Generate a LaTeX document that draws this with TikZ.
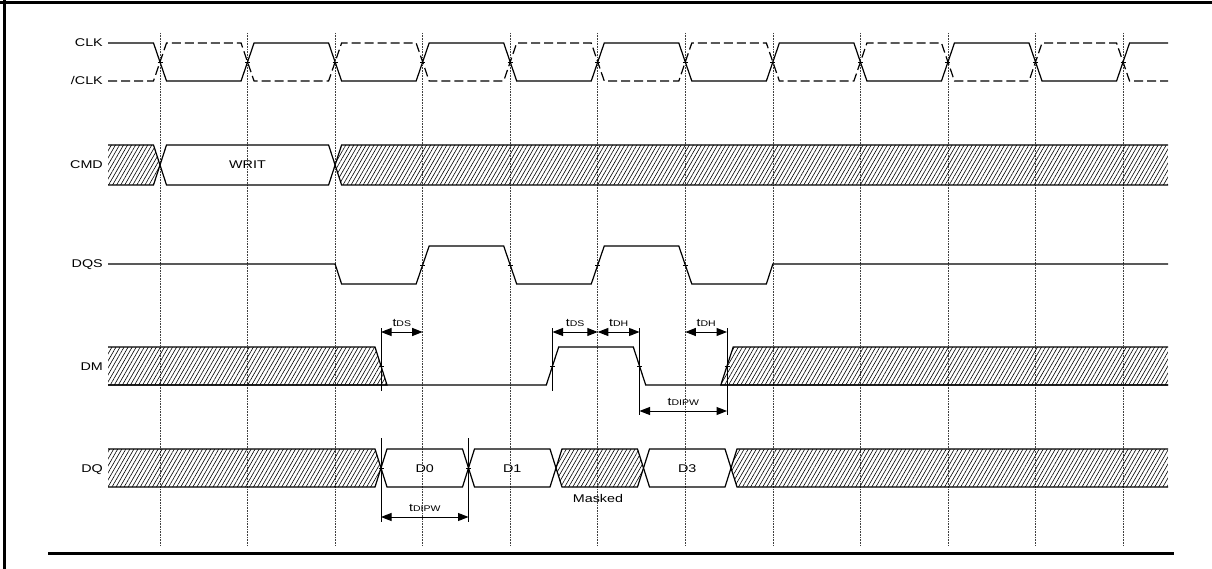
\documentclass[tikz,border=0pt]{standalone}
\usepackage{fontspec}
\setmainfont{Liberation Sans}[FakeStretch=1.28]
\usetikzlibrary{arrows.meta,patterns.meta}
\newcommand{\tsub}[1]{t{\fontsize{8.2}{9}\selectfont #1}}

\begin{document}
\begin{tikzpicture}[x=1pt, y=-1pt,
        sig/.style={line width=1.2pt, line join=miter},
        gridln/.style={black!75, line width=0.7pt, dash pattern=on 0.8pt off 0.8pt},
        hatch/.style={pattern={Lines[angle=60,distance=3.5pt,line width=0.6pt]}},
        lbl/.style={anchor=east, font=\fontsize{11.2}{13}\selectfont, inner sep=0pt, text height=8pt, text depth=0pt},
        txt/.style={font=\fontsize{11.2}{13}\selectfont, inner sep=0pt, text height=8pt, text depth=0pt},
        dim/.style={line width=1pt, {Triangle[length=10.5pt,width=8pt]}-{Triangle[length=10.5pt,width=8pt]}},
        dimlbl/.style={font=\fontsize{11}{12}\selectfont, inner sep=0pt, text height=7.5pt, text depth=0pt, above=4.8pt},
        refln/.style={line width=1pt},
        crosstick/.style={line width=0.6pt}
    ]
        \useasboundingbox (0,0) rectangle (1212,569);

        \draw[line width=2.4pt] (4.5,0) -- (4.5,569);
        \draw[line width=2.6pt] (0,2.8) -- (1212,2.8);
        \draw[line width=3pt] (48,553.3) -- (1174,553.3);

        \foreach \i in {0,...,11} \draw[gridln] ({160+87.55*\i},33) -- ({160+87.55*\i},546);

        \node[lbl] (clk) at (103,43) {CLK};
        \node[lbl] (nclk) at (103,81) {/CLK};
        \node[lbl] (cmd) at (103,165) {CMD};
        \node[lbl] (dqs) at (103,264) {DQS};
        \node[lbl] (dm) at (103,366) {DM};
        \node[lbl] (dq) at (103,468) {DQ};

        \draw[sig] (108,43) foreach \i [evaluate=\i as \g using 160+87.55*\i,
            evaluate=\i as \ya using {ifthenelse(mod(\i,2)==0,43,81)},
            evaluate=\i as \yb using {ifthenelse(mod(\i,2)==0,81,43)}] in {0,...,11}
            { -- (\g-6.5,\ya) -- (\g+6.5,\yb) } -- (1168,43);
        \draw[sig, dash pattern=on 9pt off 4pt] (108,81) foreach \i [evaluate=\i as \g using 160+87.55*\i,
            evaluate=\i as \ya using {ifthenelse(mod(\i,2)==0,81,43)},
            evaluate=\i as \yb using {ifthenelse(mod(\i,2)==0,43,81)}] in {0,...,11}
            { -- (\g-6.5,\ya) -- (\g+6.5,\yb) } -- (1168,81);
        \foreach \i in {0,...,11} \draw[crosstick] ({160+87.55*\i-2.5},62) -- ({160+87.55*\i+2.5},62);

        \draw[sig, hatch] (108,145) -- (153.5,145) -- (160,165) -- (153.5,185) -- (108,185);
        \draw[sig] (160,165) -- (166.5,145) -- (328.6,145) -- (335.1,165) -- (328.6,185) -- (166.5,185) -- cycle;
        \node[txt] (writ) at (247.5,165) {WRIT};
        \draw[sig, hatch] (1168,145) -- (341.6,145) -- (335.1,165) -- (341.6,185) -- (1168,185);

        \draw[sig] (108,264) -- (335.1,264) -- (341.6,284) -- (416.15,284) -- (429.15,246) -- (503.7,246)
            -- (516.7,284) -- (591.25,284) -- (604.25,246) -- (678.8,246) -- (691.8,284)
            -- (766.35,284) -- (772.85,264) -- (1168,264);
        \foreach \x in {422.65,510.2,597.75,685.3} \draw[crosstick] (\x-2.5,265) -- (\x+2.5,265);

        \draw[sig, hatch] (108,347) -- (375,347) -- (387,385) -- (108,385);
        \draw[sig] (108,385) -- (546.3,385) -- (558.7,347) -- (633.3,347) -- (645.7,385) -- (1168,385);
        \draw[sig, hatch] (1168,347) -- (733.2,347) -- (720.8,385) -- (1168,385);
        \foreach \x in {381,552.5,639.5,727} \draw[crosstick] (\x-2.5,366) -- (\x+2.5,366);

        \draw[sig, hatch] (108,449) -- (375,449) -- (381,468) -- (375,487) -- (108,487);
        \foreach \a/\b/\t/\n in {381/468.5/D0/d0, 468.5/556/D1/d1, 643.5/731/D3/d3} {
            \draw[sig] (\a,468) -- (\a+6,449) -- (\b-6,449) -- (\b,468) -- (\b-6,487) -- (\a+6,487) -- cycle;
            \node[txt] (\n) at ({(\a+\b)/2},468) {\t};
        }
        \draw[sig, hatch] (556,468) -- (562,449) -- (637.5,449) -- (643.5,468) -- (637.5,487) -- (562,487) -- cycle;
        \node[txt] (masked) at (598,498) {Masked};
        \draw[sig, hatch] (1168,449) -- (737,449) -- (731,468) -- (737,487) -- (1168,487);
        \foreach \x in {381,468.5} \draw[crosstick] (\x-2.5,468) -- (\x+2.5,468);

        \coordinate (e1t) at (381,328);   \coordinate (e1b) at (381,391);
        \coordinate (e2t) at (552.5,328); \coordinate (e2b) at (552.5,391);
        \coordinate (e3t) at (639.5,328); \coordinate (e3b) at (639.5,415);
        \coordinate (e4t) at (727,328);   \coordinate (e4b) at (727,415);
        \coordinate (q1t) at (381,438);   \coordinate (q1b) at (381,522);
        \coordinate (q2t) at (468.5,438); \coordinate (q2b) at (468.5,522);
        \foreach \p in {e1,e2,e3,e4,q1,q2} \draw[refln] (\p t) -- (\p b);

        \coordinate (ds1a) at (381,332);   \coordinate (ds1b) at (422.65,332);
        \coordinate (ds2a) at (552.5,332); \coordinate (ds2b) at (597.75,332);
        \coordinate (dh1b) at (639.5,332);
        \coordinate (dh2a) at (685.3,332); \coordinate (dh2b) at (727,332);
        \coordinate (pw1a) at (639.5,411); \coordinate (pw1b) at (727,411);
        \coordinate (pw2a) at (381,517);   \coordinate (pw2b) at (468.5,517);

        \draw[dim] (ds1a) -- (ds1b) node[dimlbl, midway] (tds1) {\tsub{DS}};
        \draw[dim] (ds2a) -- (ds2b) node[dimlbl, midway] (tds2) {\tsub{DS}};
        \draw[dim] (ds2b) -- (dh1b) node[dimlbl, midway] (tdh1) {\tsub{DH}};
        \draw[dim] (dh2a) -- (dh2b) node[dimlbl, midway] (tdh2) {\tsub{DH}};
        \draw[dim] (pw1a) -- (pw1b) node[dimlbl, midway] (tdipw1) {\tsub{DIPW}};
        \draw[dim] (pw2a) -- (pw2b) node[dimlbl, midway] (tdipw2) {\tsub{DIPW}};
    \end{tikzpicture}
\end{document}
